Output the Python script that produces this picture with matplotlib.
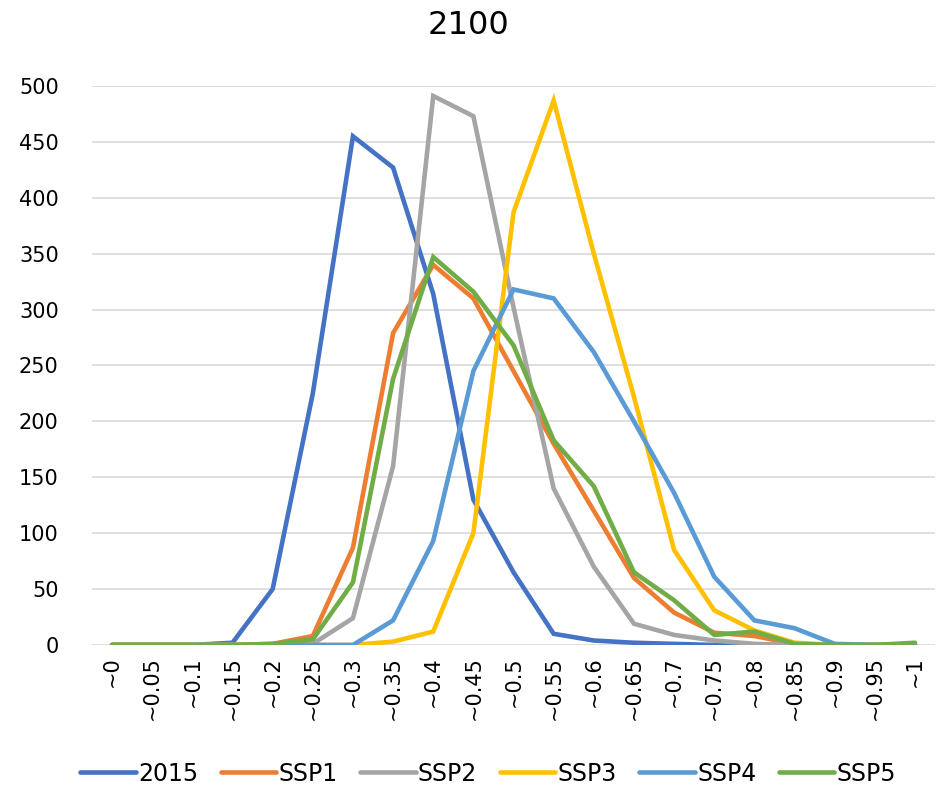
import numpy as np
import matplotlib
matplotlib.use('Agg')
import matplotlib.pyplot as plt

# categories along the x axis
bins = ['~0', '~0.05', '~0.1', '~0.15', '~0.2', '~0.25', '~0.3', '~0.35', '~0.4',
        '~0.45', '~0.5', '~0.55', '~0.6', '~0.65', '~0.7', '~0.75', '~0.8',
        '~0.85', '~0.9', '~0.95', '~1']

# series
y2015 = [0, 0, 0, 2, 50, 225, 455, 427, 314, 130, 65, 10, 4, 2, 1, 0, 0, 0, 0, 0, 0]
ssp1 = [0, 0, 0, 0, 1, 8, 87, 279, 340, 310, 245, 180, 120, 60, 29, 11, 8, 1, 0, 0, 1]
ssp2 = [0, 0, 0, 0, 0, 1, 24, 160, 491, 473, 302, 140, 70, 19, 9, 4, 1, 0, 0, 0, 0]
ssp3 = [0, 0, 0, 0, 0, 0, 0, 3, 12, 100, 387, 487, 350, 222, 85, 31, 13, 2, 0, 0, 0]
ssp4 = [0, 0, 0, 0, 0, 0, 0, 22, 93, 245, 318, 310, 262, 200, 136, 61, 22, 15, 1, 0, 0]
ssp5 = [0, 0, 0, 0, 1, 5, 56, 238, 347, 316, 268, 183, 142, 65, 40, 9, 12, 1, 0, 0, 2]

names = ['2015', 'SSP1', 'SSP2', 'SSP3', 'SSP4', 'SSP5']
series = [y2015, ssp1, ssp2, ssp3, ssp4, ssp5]
colors = ['#4472C4', '#ED7D31', '#A5A5A5', '#FFC000', '#5B9BD5', '#70AD47']

fig = plt.figure(figsize=(9.37, 7.88), dpi=100)
ax = fig.add_axes([0.0982, 0.1815, 0.8997, 0.7094])

x = np.arange(len(bins))
for s, name, c in zip(series, names, colors):
    ax.plot(x, s, color=c, lw=3.3, label=name, solid_capstyle='round',
            solid_joinstyle='miter')

ax.set_xlim(-0.5, len(bins) - 0.5)
ax.set_ylim(0, 500)
ax.set_yticks(np.arange(0, 501, 50))
ax.set_xticks(x)
ax.set_xticklabels(bins, rotation=90, fontsize=15)
ax.tick_params(axis='y', labelsize=15, length=0, pad=24)
ax.tick_params(axis='x', length=0, pad=8)
ax.grid(axis='y', color='#D9D9D9', lw=1.2)
ax.set_axisbelow(True)
for sp in ax.spines.values():
    sp.set_visible(False)

fig.text(0.5, 0.968, '2100', ha='center', va='center', fontsize=23)

fig.legend(loc='lower center', bbox_to_anchor=(0.521, -0.024), ncol=6,
           frameon=False, fontsize=17, handlelength=2.35, handletextpad=0.1,
           columnspacing=0.95)

fig.savefig('out.png', dpi=100)
